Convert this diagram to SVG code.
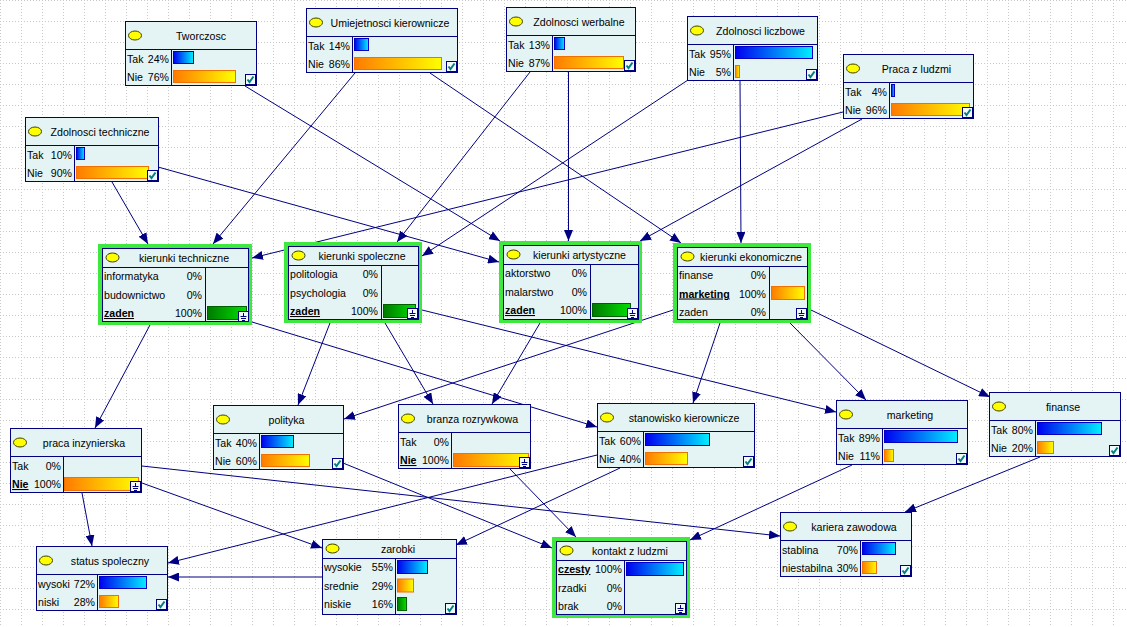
<svg xmlns="http://www.w3.org/2000/svg" xmlns:xlink="http://www.w3.org/1999/xlink" width="1127" height="627" viewBox="0 0 1127 627">
<style>
.nb{fill:#E4F4F4;stroke:#000080;stroke-width:1}
.sep{stroke:#000080;stroke-width:1;fill:none}
.t{font-family:"Liberation Sans",Arial,sans-serif;font-size:10.6px;fill:#000}
.tc{text-anchor:middle}
.r{text-anchor:end}
.b{font-weight:bold;text-decoration:underline}
.ov{fill:#FFFF00;stroke:#404000;stroke-width:1}
.hl{fill:none;stroke:#3EE83E;stroke-width:4}
.bb{fill:url(#gb);stroke:#0000C0;stroke-width:1}
.bo{fill:url(#go);stroke:#F07000;stroke-width:1}
.bg{fill:url(#gg);stroke:#006000;stroke-width:1}
.e{stroke:#000080;stroke-width:1;fill:none;marker-end:url(#a)}
</style>
<defs>
<pattern id="grid" width="21" height="21" patternUnits="userSpaceOnUse">
<path d="M0 0.5H21M0.5 0V21" stroke="#C8C8C8" stroke-width="1" stroke-dasharray="1 2" fill="none"/>
</pattern>
<linearGradient id="gb" x1="0" y1="0" x2="1" y2="0"><stop offset="0" stop-color="#0000F0"/><stop offset="1" stop-color="#00F0FF"/></linearGradient>
<linearGradient id="go" x1="0" y1="0" x2="1" y2="0"><stop offset="0" stop-color="#FF7A00"/><stop offset="1" stop-color="#FFFF00"/></linearGradient>
<linearGradient id="gg" x1="0" y1="0" x2="1" y2="0"><stop offset="0" stop-color="#007A00"/><stop offset="1" stop-color="#00E000"/></linearGradient>
<marker id="a" markerWidth="11" markerHeight="9" refX="11" refY="4.5" orient="auto" markerUnits="userSpaceOnUse"><path d="M0,0 L11,4.5 L0,9 z" fill="#000080"/></marker>
<g id="chk"><rect x="0.5" y="0.5" width="10" height="10" fill="#F2FAFA" stroke="#000080"/><path d="M2.5 5.5 L4.5 8 L8.5 2.5" fill="none" stroke="#008080" stroke-width="2"/></g>
<g id="flt"><rect x="0.5" y="0.5" width="10" height="10" fill="#F2FAFA" stroke="#000080"/><path d="M5.5 2V5M2.5 5.5H8.5M3 7.5H8M4 9.5H7" stroke="#000080" stroke-width="1" fill="none"/></g>
</defs>
<rect width="1127" height="627" fill="#FFFFFF"/>
<rect width="1127" height="627" fill="url(#grid)"/>

<g id="connectors">
<line class="e" x1="245" y1="86" x2="500" y2="241"/>
<line class="e" x1="355" y1="73" x2="213" y2="244"/>
<line class="e" x1="430" y1="73" x2="681" y2="243"/>
<line class="e" x1="530" y1="72" x2="397" y2="242"/>
<line class="e" x1="568.5" y1="72" x2="568.5" y2="241"/>
<line class="e" x1="688" y1="80" x2="422" y2="256"/>
<line class="e" x1="740" y1="81" x2="741" y2="243"/>
<line class="e" x1="843" y1="112" x2="252" y2="258"/>
<line class="e" x1="862" y1="119" x2="640" y2="241"/>
<line class="e" x1="112" y1="182" x2="148" y2="244"/>
<line class="e" x1="158" y1="167" x2="499" y2="262"/>
<line class="e" x1="150" y1="325" x2="95" y2="428"/>
<line class="e" x1="252" y1="322" x2="597" y2="427"/>
<line class="e" x1="330" y1="323" x2="298" y2="405"/>
<line class="e" x1="385" y1="323" x2="433" y2="404"/>
<line class="e" x1="422" y1="310" x2="836" y2="412"/>
<line class="e" x1="540" y1="323" x2="492" y2="404"/>
<line class="e" x1="673" y1="310" x2="344" y2="419"/>
<line class="e" x1="720" y1="323" x2="693" y2="403"/>
<line class="e" x1="790" y1="323" x2="866" y2="400"/>
<line class="e" x1="811" y1="310" x2="990" y2="397"/>
<line class="e" x1="82" y1="493" x2="92" y2="546"/>
<line class="e" x1="142" y1="483" x2="322" y2="548"/>
<line class="e" x1="142" y1="466" x2="780" y2="536"/>
<line class="e" x1="343" y1="463" x2="552" y2="548"/>
<line class="e" x1="510" y1="469" x2="576" y2="537"/>
<line class="e" x1="597" y1="455" x2="168" y2="563"/>
<line class="e" x1="620" y1="468" x2="456" y2="545"/>
<line class="e" x1="852" y1="465" x2="690" y2="540"/>
<line class="e" x1="1040" y1="457" x2="905" y2="512"/>
<line class="e" x1="322" y1="577" x2="168" y2="577"/>
</g>

<g id="tworczosc">
<rect class="nb" x="125.5" y="21.5" width="131" height="64"/>
<path class="sep" d="M125.5 49.5H256.5M171.5 49.5V85.5"/>
<ellipse class="ov" cx="135" cy="35.5" rx="6.5" ry="4.5"/>
<text class="t tc" x="201" y="40">Tworczosc</text>
<text class="t" x="127" y="63">Tak</text><text class="t r" x="169" y="63">24%</text>
<text class="t" x="127" y="81">Nie</text><text class="t r" x="169" y="81">76%</text>
<rect class="bb" x="173.5" y="51.5" width="20" height="12"/>
<rect class="bo" x="173.5" y="70.5" width="62" height="12"/>
<use xlink:href="#chk" x="245" y="74"/>
</g>

<g id="umiejetnosci">
<rect class="nb" x="306.5" y="8.5" width="151" height="64"/>
<path class="sep" d="M306.5 36.5H457.5M352.5 36.5V72.5"/>
<ellipse class="ov" cx="316" cy="22.5" rx="6.5" ry="4.5"/>
<text class="t tc" x="390" y="27">Umiejetnosci kierownicze</text>
<text class="t" x="308" y="50">Tak</text><text class="t r" x="350" y="50">14%</text>
<text class="t" x="308" y="68">Nie</text><text class="t r" x="350" y="68">86%</text>
<rect class="bb" x="354.5" y="38.5" width="14" height="12"/>
<rect class="bo" x="354.5" y="57.5" width="87" height="12"/>
<use xlink:href="#chk" x="446" y="61"/>
</g>

<g id="werbalne">
<rect class="nb" x="506.5" y="7.5" width="129" height="64"/>
<path class="sep" d="M506.5 35.5H635.5M552.5 35.5V71.5"/>
<ellipse class="ov" cx="516" cy="21.5" rx="6.5" ry="4.5"/>
<text class="t tc" x="579" y="26">Zdolnosci werbalne</text>
<text class="t" x="508" y="49">Tak</text><text class="t r" x="550" y="49">13%</text>
<text class="t" x="508" y="67">Nie</text><text class="t r" x="550" y="67">87%</text>
<rect class="bb" x="554.5" y="37.5" width="10" height="12"/>
<rect class="bo" x="554.5" y="56.5" width="69" height="12"/>
<use xlink:href="#chk" x="624" y="60"/>
</g>

<g id="liczbowe">
<rect class="nb" x="687.5" y="16.5" width="130" height="64"/>
<path class="sep" d="M687.5 44.5H817.5M733.5 44.5V80.5"/>
<ellipse class="ov" cx="697" cy="30.5" rx="6.5" ry="4.5"/>
<text class="t tc" x="760.5" y="35">Zdolnosci liczbowe</text>
<text class="t" x="689" y="58">Tak</text><text class="t r" x="731" y="58">95%</text>
<text class="t" x="689" y="76">Nie</text><text class="t r" x="731" y="76">5%</text>
<rect class="bb" x="735.5" y="46.5" width="77" height="12"/>
<rect class="bo" x="735.5" y="65.5" width="4" height="12"/>
<use xlink:href="#chk" x="806" y="69"/>
</g>

<g id="praca_z_ludzmi">
<rect class="nb" x="843.5" y="54.5" width="130" height="64"/>
<path class="sep" d="M843.5 82.5H973.5M889.5 82.5V118.5"/>
<ellipse class="ov" cx="853" cy="68.5" rx="6.5" ry="4.5"/>
<text class="t tc" x="916.5" y="73">Praca z ludzmi</text>
<text class="t" x="845" y="96">Tak</text><text class="t r" x="887" y="96">4%</text>
<text class="t" x="845" y="114">Nie</text><text class="t r" x="887" y="114">96%</text>
<rect class="bb" x="891.5" y="84.5" width="3" height="12"/>
<rect class="bo" x="891.5" y="103.5" width="78" height="12"/>
<use xlink:href="#chk" x="962" y="107"/>
</g>

<g id="zd_techniczne">
<rect class="nb" x="25.5" y="117.5" width="133" height="64"/>
<path class="sep" d="M25.5 145.5H158.5M74.5 145.5V181.5"/>
<ellipse class="ov" cx="35" cy="131.5" rx="6.5" ry="4.5"/>
<text class="t tc" x="100" y="136">Zdolnosci techniczne</text>
<text class="t" x="27" y="159">Tak</text><text class="t r" x="72" y="159">10%</text>
<text class="t" x="27" y="177">Nie</text><text class="t r" x="72" y="177">90%</text>
<rect class="bb" x="76.5" y="147.5" width="8" height="12"/>
<rect class="bo" x="76.5" y="166.5" width="72" height="12"/>
<use xlink:href="#chk" x="147" y="170"/>
</g>

<g id="kier_techniczne">
<rect class="hl" x="100" y="246" width="150" height="77"/>
<rect class="nb" x="102.5" y="248.5" width="146" height="73"/>
<path class="sep" d="M102.5 267.5H248.5M205.5 267.5V321.5"/>
<ellipse class="ov" cx="112.5" cy="257.5" rx="6.5" ry="4.5"/>
<text class="t tc" x="184" y="262">kierunki techniczne</text>
<text class="t" x="104" y="280">informatyka</text><text class="t r" x="202" y="280">0%</text>
<text class="t" x="104" y="298.5">budownictwo</text><text class="t r" x="202" y="298.5">0%</text>
<text class="t b" x="104" y="317">zaden</text><text class="t r" x="202" y="317">100%</text>
<rect class="bg" x="207.5" y="306.5" width="39" height="13"/>
<use xlink:href="#flt" x="238" y="311"/>
</g>

<g id="kier_spoleczne">
<rect class="hl" x="286" y="244" width="134" height="77"/>
<rect class="nb" x="288.5" y="246.5" width="130" height="73"/>
<path class="sep" d="M288.5 265.5H418.5M381.5 265.5V319.5"/>
<ellipse class="ov" cx="298.5" cy="255.5" rx="6.5" ry="4.5"/>
<text class="t tc" x="362" y="260">kierunki spoleczne</text>
<text class="t" x="290" y="278">politologia</text><text class="t r" x="378" y="278">0%</text>
<text class="t" x="290" y="296.5">psychologia</text><text class="t r" x="378" y="296.5">0%</text>
<text class="t b" x="290" y="315">zaden</text><text class="t r" x="378" y="315">100%</text>
<rect class="bg" x="383.5" y="304.5" width="32" height="13"/>
<use xlink:href="#flt" x="407" y="308"/>
</g>

<g id="kier_artystyczne">
<rect class="hl" x="501" y="243" width="139" height="78"/>
<rect class="nb" x="503.5" y="245.5" width="135" height="74"/>
<path class="sep" d="M503.5 264.5H638.5M590.5 264.5V319.5"/>
<ellipse class="ov" cx="513.5" cy="254.5" rx="6.5" ry="4.5"/>
<text class="t tc" x="579.5" y="259">kierunki artystyczne</text>
<text class="t" x="505" y="277">aktorstwo</text><text class="t r" x="587" y="277">0%</text>
<text class="t" x="505" y="295.5">malarstwo</text><text class="t r" x="587" y="295.5">0%</text>
<text class="t b" x="505" y="314">zaden</text><text class="t r" x="587" y="314">100%</text>
<rect class="bg" x="592.5" y="303.5" width="38" height="13"/>
<use xlink:href="#flt" x="627" y="308"/>
</g>

<g id="kier_ekonomiczne">
<rect class="hl" x="675" y="245" width="134" height="76"/>
<rect class="nb" x="677.5" y="247.5" width="130" height="72"/>
<path class="sep" d="M677.5 266.5H807.5M769.5 266.5V319.5"/>
<ellipse class="ov" cx="687.5" cy="256.5" rx="6.5" ry="4.5"/>
<text class="t tc" x="751" y="261">kierunki ekonomiczne</text>
<text class="t" x="679" y="279">finanse</text><text class="t r" x="766" y="279">0%</text>
<text class="t b" x="679" y="297.5">marketing</text><text class="t r" x="766" y="297.5">100%</text>
<text class="t" x="679" y="316">zaden</text><text class="t r" x="766" y="316">0%</text>
<rect class="bo" x="771.5" y="286.5" width="33" height="13"/>
<use xlink:href="#flt" x="796" y="308"/>
</g>

<g id="praca_inzynierska">
<rect class="nb" x="10.5" y="428.5" width="131" height="64"/>
<path class="sep" d="M10.5 456.5H141.5M63.5 456.5V492.5"/>
<ellipse class="ov" cx="20" cy="442.5" rx="6.5" ry="4.5"/>
<text class="t tc" x="84" y="447">praca inzynierska</text>
<text class="t" x="12" y="470">Tak</text><text class="t r" x="61" y="470">0%</text>
<text class="t b" x="12" y="488">Nie</text><text class="t r" x="61" y="488">100%</text>
<rect class="bo" x="64.5" y="477.5" width="74" height="13"/>
<use xlink:href="#flt" x="130" y="481"/>
</g>

<g id="polityka">
<rect class="nb" x="213.5" y="405.5" width="130" height="64"/>
<path class="sep" d="M213.5 433.5H343.5M259.5 433.5V469.5"/>
<ellipse class="ov" cx="223" cy="419.5" rx="6.5" ry="4.5"/>
<text class="t tc" x="286.5" y="424">polityka</text>
<text class="t" x="215" y="447">Tak</text><text class="t r" x="257" y="447">40%</text>
<text class="t" x="215" y="465">Nie</text><text class="t r" x="257" y="465">60%</text>
<rect class="bb" x="261.5" y="435.5" width="32" height="12"/>
<rect class="bo" x="261.5" y="454.5" width="48" height="12"/>
<use xlink:href="#chk" x="332" y="458"/>
</g>

<g id="branza">
<rect class="nb" x="398.5" y="404.5" width="132" height="64"/>
<path class="sep" d="M398.5 432.5H530.5M451.5 432.5V468.5"/>
<ellipse class="ov" cx="408" cy="418.5" rx="6.5" ry="4.5"/>
<text class="t tc" x="472.5" y="423">branza rozrywkowa</text>
<text class="t" x="400" y="446">Tak</text><text class="t r" x="449" y="446">0%</text>
<text class="t b" x="400" y="464">Nie</text><text class="t r" x="449" y="464">100%</text>
<rect class="bo" x="453.5" y="453.5" width="75" height="13"/>
<use xlink:href="#flt" x="519" y="457"/>
</g>

<g id="stanowisko">
<rect class="nb" x="597.5" y="403.5" width="157" height="64"/>
<path class="sep" d="M597.5 431.5H754.5M643.5 431.5V467.5"/>
<ellipse class="ov" cx="607" cy="417.5" rx="6.5" ry="4.5"/>
<text class="t tc" x="684" y="422">stanowisko kierownicze</text>
<text class="t" x="599" y="445">Tak</text><text class="t r" x="641" y="445">60%</text>
<text class="t" x="599" y="463">Nie</text><text class="t r" x="641" y="463">40%</text>
<rect class="bb" x="645.5" y="433.5" width="64" height="12"/>
<rect class="bo" x="645.5" y="452.5" width="42" height="12"/>
<use xlink:href="#chk" x="743" y="456"/>
</g>

<g id="marketing">
<rect class="nb" x="836.5" y="400.5" width="131" height="64"/>
<path class="sep" d="M836.5 428.5H967.5M882.5 428.5V464.5"/>
<ellipse class="ov" cx="846" cy="414.5" rx="6.5" ry="4.5"/>
<text class="t tc" x="910" y="419">marketing</text>
<text class="t" x="838" y="442">Tak</text><text class="t r" x="880" y="442">89%</text>
<text class="t" x="838" y="460">Nie</text><text class="t r" x="880" y="460">11%</text>
<rect class="bb" x="884.5" y="430.5" width="73" height="12"/>
<rect class="bo" x="884.5" y="449.5" width="9" height="12"/>
<use xlink:href="#chk" x="956" y="453"/>
</g>

<g id="finanse">
<rect class="nb" x="989.5" y="392.5" width="131" height="64"/>
<path class="sep" d="M989.5 420.5H1120.5M1035.5 420.5V456.5"/>
<ellipse class="ov" cx="999" cy="406.5" rx="6.5" ry="4.5"/>
<text class="t tc" x="1063" y="411">finanse</text>
<text class="t" x="991" y="434">Tak</text><text class="t r" x="1033" y="434">80%</text>
<text class="t" x="991" y="452">Nie</text><text class="t r" x="1033" y="452">20%</text>
<rect class="bb" x="1037.5" y="422.5" width="64" height="12"/>
<rect class="bo" x="1037.5" y="441.5" width="16" height="12"/>
<use xlink:href="#chk" x="1109" y="445"/>
</g>

<g id="kariera">
<rect class="nb" x="780.5" y="512.5" width="131" height="64"/>
<path class="sep" d="M780.5 540.5H911.5M860.5 540.5V576.5"/>
<ellipse class="ov" cx="790" cy="526.5" rx="6.5" ry="4.5"/>
<text class="t tc" x="854" y="531">kariera zawodowa</text>
<text class="t" x="782" y="554">stablina</text><text class="t r" x="858" y="554">70%</text>
<text class="t" x="782" y="572">niestabilna</text><text class="t r" x="858" y="572">30%</text>
<rect class="bb" x="862.5" y="542.5" width="33" height="12"/>
<rect class="bo" x="862.5" y="561.5" width="14" height="12"/>
<use xlink:href="#chk" x="900" y="565"/>
</g>

<g id="kontakt">
<rect class="hl" x="554" y="539" width="134" height="77"/>
<rect class="nb" x="556.5" y="541.5" width="130" height="73"/>
<path class="sep" d="M556.5 560.5H686.5M624.5 560.5V614.5"/>
<ellipse class="ov" cx="566.5" cy="550.5" rx="6.5" ry="4.5"/>
<text class="t tc" x="630" y="555">kontakt z ludzmi</text>
<text class="t b" x="558" y="573">czesty</text><text class="t r" x="622" y="573">100%</text>
<text class="t" x="558" y="591.5">rzadki</text><text class="t r" x="622" y="591.5">0%</text>
<text class="t" x="558" y="610">brak</text><text class="t r" x="622" y="610">0%</text>
<rect class="bb" x="626.5" y="562.5" width="57" height="13"/>
<use xlink:href="#flt" x="675" y="603"/>
</g>

<g id="zarobki">
<rect class="nb" x="322.5" y="539.5" width="134" height="75"/>
<path class="sep" d="M322.5 558.5H456.5M395.5 558.5V614.5"/>
<ellipse class="ov" cx="332.5" cy="548.5" rx="6.5" ry="4.5"/>
<text class="t tc" x="398" y="553">zarobki</text>
<text class="t" x="324" y="571">wysokie</text><text class="t r" x="393" y="571">55%</text>
<text class="t" x="324" y="589.5">srednie</text><text class="t r" x="393" y="589.5">29%</text>
<text class="t" x="324" y="608">niskie</text><text class="t r" x="393" y="608">16%</text>
<rect class="bb" x="397.5" y="560.5" width="30" height="13"/>
<rect class="bo" x="397.5" y="579" width="16" height="13"/>
<rect class="bg" x="397.5" y="597.5" width="9" height="13"/>
<use xlink:href="#chk" x="445" y="603"/>
</g>

<g id="status">
<rect class="nb" x="36.5" y="546.5" width="131" height="64"/>
<path class="sep" d="M36.5 574.5H167.5M97.5 574.5V610.5"/>
<ellipse class="ov" cx="46" cy="560.5" rx="6.5" ry="4.5"/>
<text class="t tc" x="110" y="565">status spoleczny</text>
<text class="t" x="38" y="588">wysoki</text><text class="t r" x="95" y="588">72%</text>
<text class="t" x="38" y="606">niski</text><text class="t r" x="95" y="606">28%</text>
<rect class="bb" x="99.5" y="576.5" width="47" height="12"/>
<rect class="bo" x="99.5" y="595.5" width="19" height="12"/>
<use xlink:href="#chk" x="156" y="599"/>
</g>
</svg>
